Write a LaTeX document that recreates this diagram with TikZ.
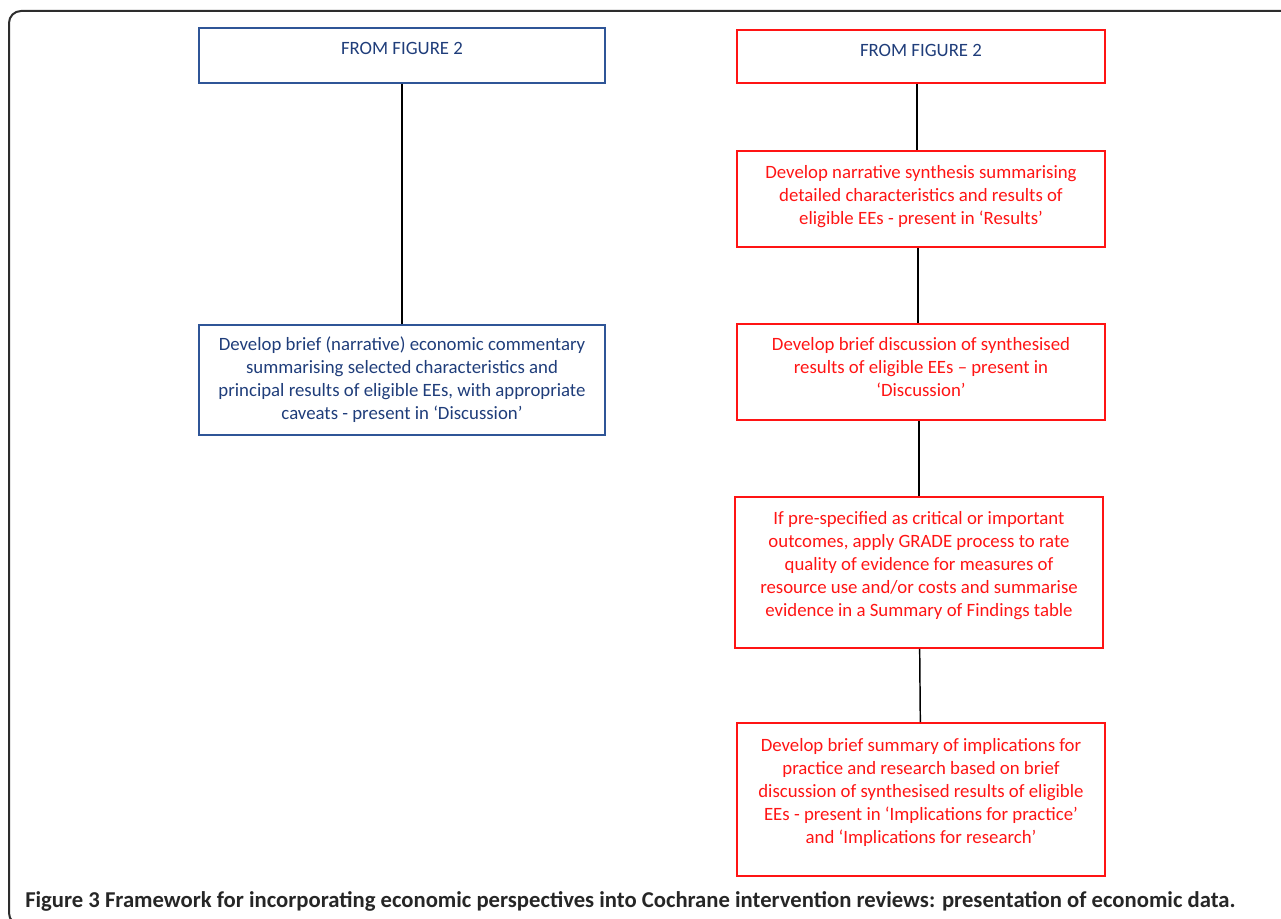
\documentclass[tikz,border=0pt]{standalone}
\usepackage{fontspec}
\setmainfont{Carlito}
\usepackage{tikz}
\usetikzlibrary{positioning}
\definecolor{figblue}{RGB}{31,61,122}
\definecolor{boxblue}{RGB}{47,85,151}
\definecolor{boxred}{RGB}{255,20,20}
\definecolor{framegray}{RGB}{45,45,45}
\newcommand{\px}{0.75pt}

\tikzset{
    bluebox/.style={draw=boxblue, line width=1.3pt, text=figblue, align=center,
        inner sep=0pt, font=\fontsize{14.1}{17.25}\selectfont},
    redbox/.style={bluebox, draw=boxred, text=boxred},
    lift/.style={text depth=#1},
    link/.style={line width=1.1pt, black}
}

\begin{document}
\begin{tikzpicture}[x=\px, y=-\px]
    \useasboundingbox (0,0) rectangle (1281,919);
    % Frame
    \draw[framegray, line width=1.5pt, rounded corners=12*\px] (9,11) rectangle (1300,925);

    % Left column
    \node[bluebox, minimum width=406*\px, minimum height=55*\px, lift=10pt] (ltop) at (402,55.5) {FROM FIGURE 2};
    \node[bluebox, minimum width=406*\px, minimum height=110*\px] (lcomm) at (402,380)
        {Develop brief (narrative) economic commentary\\
         summarising selected characteristics and\\
         principal results of eligible EEs, with appropriate\\
         caveats - present in ‘Discussion’};

    % Right column
    \node[redbox, text=figblue, minimum width=368*\px, minimum height=53*\px, lift=9.5pt] (rtop) at (921,56.5) {FROM FIGURE 2};
    \node[redbox, minimum width=368*\px, minimum height=96*\px, lift=6pt] (rsyn) at (921,199)
        {Develop narrative synthesis summarising\\
         detailed characteristics and results of\\
         eligible EEs - present in ‘Results’};
    \node[redbox, minimum width=368*\px, minimum height=96*\px, lift=7.5pt] (rdisc) at (921,372)
        {Develop brief discussion of synthesised\\
         results of eligible EEs – present in\\
         ‘Discussion’};
    \node[redbox, minimum width=368*\px, minimum height=151*\px, lift=13pt] (rgrade) at (919,572.5)
        {If pre-specified as critical or important\\
         outcomes, apply GRADE process to rate\\
         quality of evidence for measures of\\
         resource use and/or costs and summarise\\
         evidence in a Summary of Findings table};
    \node[redbox, minimum width=368*\px, minimum height=153*\px, lift=13.5pt] (rimpl) at (921,799.5)
        {Develop brief summary of implications for\\
         practice and research based on brief\\
         discussion of synthesised results of eligible\\
         EEs - present in ‘Implications for practice’\\
         and ‘Implications for research’};

    % Links
    \draw[link] (ltop) -- (lcomm);
    \draw[link] ([xshift=-4*\px]rtop.south) -- ([xshift=-4*\px]rsyn.north);
    \draw[link] ([xshift=-3*\px]rsyn.south) -- ([xshift=-3*\px]rdisc.north);
    \draw[link] ([xshift=-2*\px]rdisc.south) -- (rgrade.north);
    \draw[link] (rgrade) -- (rimpl);

    % Caption
    \node[anchor=base west, inner sep=0pt, font=\fontsize{17}{20}\selectfont\bfseries, text=black!85] (caption) at (25,907)
        {Figure 3 Framework for incorporating economic perspectives into Cochrane intervention reviews: presentation of economic data.};
\end{tikzpicture}
\end{document}
